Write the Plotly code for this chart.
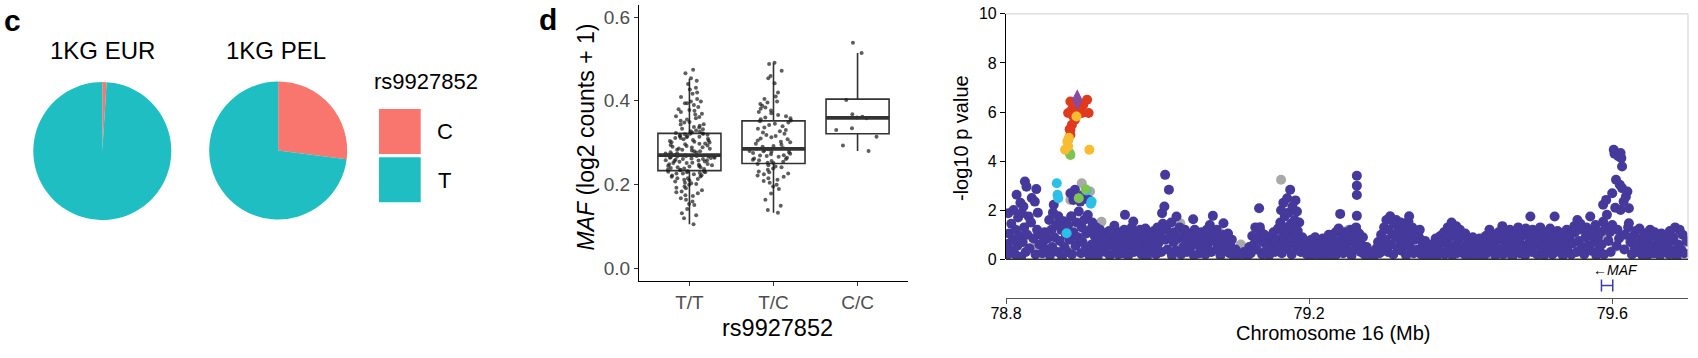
import plotly.graph_objects as go

# ---------------- data ----------------
# panel c: allele frequencies of rs9927852
pie_groups = ["1KG EUR", "1KG PEL"]
alleles = ["C", "T"]
freq_eur = [0.01, 0.99]
freq_pel = [0.27, 0.73]
allele_colors = ["#F8766D", "#1FBEC3"]

# panel d: MAF expression by genotype
genotypes = ["T/T", "T/C", "C/C"]
box_q1 = [0.233, 0.250, 0.321]
box_median = [0.270, 0.285, 0.359]
box_q3 = [0.322, 0.352, 0.404]
box_low = [0.105, 0.132, 0.280]
box_high = [0.452, 0.490, 0.514]

expr_tt = [0.105, 0.119, 0.126, 0.131, 0.141, 0.151, 0.153, 0.159, 0.163, 0.167, 0.172, 0.174, 0.179,
           0.181, 0.183, 0.186, 0.191, 0.192, 0.195, 0.199, 0.201, 0.203, 0.204, 0.207, 0.21, 0.211,
           0.213, 0.215, 0.215, 0.218, 0.219, 0.221, 0.222, 0.224, 0.226, 0.226, 0.227, 0.229, 0.229,
           0.23, 0.231, 0.232, 0.234, 0.235, 0.235, 0.237, 0.238, 0.239, 0.241, 0.241, 0.243, 0.244,
           0.244, 0.246, 0.247, 0.248, 0.249, 0.251, 0.251, 0.252, 0.254, 0.255, 0.256, 0.257, 0.258,
           0.258, 0.259, 0.261, 0.261, 0.262, 0.263, 0.264, 0.264, 0.265, 0.266, 0.267, 0.267, 0.268,
           0.268, 0.269, 0.27, 0.27, 0.271, 0.272, 0.274, 0.274, 0.276, 0.277, 0.279, 0.279, 0.281,
           0.283, 0.283, 0.285, 0.286, 0.288, 0.289, 0.29, 0.292, 0.293, 0.294, 0.296, 0.297, 0.298,
           0.3, 0.301, 0.302, 0.304, 0.305, 0.306, 0.308, 0.309, 0.311, 0.311, 0.313, 0.314, 0.316,
           0.316, 0.317, 0.319, 0.32, 0.321, 0.321, 0.322, 0.323, 0.324, 0.326, 0.327, 0.329, 0.332,
           0.333, 0.336, 0.337, 0.34, 0.343, 0.344, 0.348, 0.349, 0.352, 0.355, 0.358, 0.361, 0.363,
           0.367, 0.369, 0.373, 0.376, 0.378, 0.38, 0.385, 0.39, 0.394, 0.394, 0.398, 0.398, 0.404,
           0.409, 0.417, 0.42, 0.427, 0.431, 0.44, 0.448, 0.454, 0.466, 0.474]
expr_tc = [0.132, 0.139, 0.149, 0.163, 0.178, 0.189, 0.195, 0.199, 0.204, 0.208, 0.211, 0.215, 0.218,
           0.221, 0.224, 0.226, 0.229, 0.231, 0.235, 0.238, 0.241, 0.243, 0.246, 0.249, 0.251, 0.252,
           0.254, 0.256, 0.258, 0.259, 0.261, 0.262, 0.264, 0.266, 0.268, 0.269, 0.27, 0.272, 0.273,
           0.275, 0.277, 0.278, 0.279, 0.28, 0.282, 0.283, 0.284, 0.285, 0.287, 0.29, 0.292, 0.295,
           0.297, 0.301, 0.302, 0.305, 0.308, 0.31, 0.313, 0.316, 0.318, 0.321, 0.324, 0.327, 0.33,
           0.333, 0.336, 0.339, 0.342, 0.345, 0.348, 0.351, 0.353, 0.356, 0.358, 0.36, 0.363, 0.366,
           0.37, 0.373, 0.377, 0.381, 0.384, 0.388, 0.392, 0.396, 0.398, 0.404, 0.41, 0.42, 0.442,
           0.454, 0.459, 0.472, 0.488, 0.491]
expr_cc = [0.28, 0.293, 0.314, 0.33, 0.334, 0.358, 0.36, 0.362, 0.368, 0.402, 0.514, 0.539]

# panel e: regional association plot (position Mb, -log10 p)
lead_snp = [(78.894, 6.5)]
red_points = [(78.907, 6.5), (78.889, 6.37), (78.909, 5.96), (78.889, 5.82), (78.887, 5.48),
              (78.885, 5.07), (78.900, 5.96), (78.902, 6.3), (78.887, 6.1), (78.884, 5.3),
              (78.896, 6.2), (78.885, 6.43), (78.882, 5.96), (78.891, 5.69), (78.885, 5.28)]
yellow_points = [(78.893, 5.82), (78.878, 4.46), (78.881, 4.8), (78.910, 4.46), (78.882, 4.6),
                 (78.883, 4.95)]
green_points = [(78.884, 4.33), (78.885, 4.25), (78.896, 2.49), (78.905, 2.85)]
cyan_points = [(78.867, 3.1), (78.868, 2.63), (78.869, 2.49), (78.880, 1.06), (78.906, 2.8),
               (78.913, 2.35), (78.912, 2.26)]
grey_points = [(78.900, 3.1), (78.911, 2.76), (78.885, 2.42), (78.882, 4.85), (78.926, 1.53),
               (78.832, 1.53), (78.841, 0.58), (78.869, 1.6), (78.962, 0.18), (78.986, 0.92),
               (78.805, 0.5), (78.815, 0.9), (78.86, 0.3), (78.885, 0.35), (78.95, 0.3),
               (78.964, 0.6), (79.03, 1.47), (79.03, 0.55), (79.06, 0.35), (79.081, 1.13),
               (79.09, 0.9), (79.12, 0.2), (79.15, 0.4), (79.163, 3.24), (79.19, 0.75),
               (79.212, 0.45), (79.215, 0.18), (79.252, 1.2), (79.29, 0.35), (79.345, 0.86),
               (79.349, 0.4), (79.364, 0.3), (79.367, 0.65), (79.436, 0.15), (79.481, 0.58),
               (79.539, 0.5), (79.591, 0.92), (79.604, 0.5), (79.628, 0.45), (79.648, 1.13),
               (79.672, 0.45), (79.699, 0.7), (78.94, 0.7), (79.11, 0.6), (79.41, 0.5)]
navy_points = [
    (78.801, 0.15), (78.802, 0.62), (78.804, 1.05), (78.806, 0.35), (78.807, 1.45), (78.803, 1.88),
    (78.809, 0.8), (78.810, 2.01), (78.812, 0.2), (78.813, 1.2), (78.814, 2.63), (78.815, 0.55),
    (78.816, 1.7), (78.818, 0.95), (78.819, 2.3), (78.82, 0.1), (78.821, 1.88), (78.822, 0.7),
    (78.823, 2.15), (78.824, 1.3), (78.825, 3.17), (78.826, 0.3), (78.827, 2.96), (78.828, 1.0),
    (78.83, 1.74), (78.831, 0.45), (78.833, 1.5), (78.834, 2.5), (78.836, 0.85), (78.838, 2.35),
    (78.839, 0.2), (78.840, 2.86), (78.841, 1.2), (78.842, 1.9), (78.844, 0.6), (78.846, 1.0),
    (78.848, 0.25), (78.849, 0.7), (78.851, 1.1), (78.853, 0.4), (78.855, 0.85), (78.857, 1.6),
    (78.858, 0.15), (78.86, 1.2), (78.861, 0.5), (78.862, 1.9), (78.863, 2.22), (78.864, 0.9),
    (78.866, 1.4), (78.868, 0.3), (78.869, 1.75), (78.871, 0.75), (78.873, 1.2), (78.874, 0.1),
    (78.876, 1.55), (78.877, 0.5), (78.879, 1.0), (78.881, 0.3), (78.882, 1.4), (78.884, 0.8),
    (78.885, 2.69), (78.886, 1.75), (78.887, 0.2), (78.889, 2.42), (78.889, 1.1), (78.891, 2.83),
    (78.892, 0.55), (78.893, 1.5), (78.895, 0.9), (78.896, 1.95), (78.898, 2.35), (78.899, 0.25),
    (78.90, 1.3), (78.901, 0.7), (78.902, 2.63), (78.903, 1.6), (78.905, 0.4), (78.906, 1.05),
    (78.908, 1.8), (78.909, 2.42), (78.91, 0.15), (78.911, 1.2), (78.913, 0.6), (78.914, 1.5),
    (78.916, 0.3), (78.917, 0.95), (78.919, 1.3), (78.92, 0.5), (78.921, 0.1), (78.922, 0.85),
    (78.924, 1.2), (78.926, 0.4), (78.927, 0.75), (78.929, 1.05), (78.931, 0.3), (78.933, 0.9),
    (78.934, 0.55), (78.936, 1.15), (78.937, 0.15), (78.939, 0.7), (78.941, 1.0), (78.943, 1.37),
    (78.944, 0.4), (78.946, 0.8), (78.948, 0.2), (78.949, 1.1), (78.951, 0.6), (78.952, 0.9),
    (78.954, 0.25), (78.956, 1.2), (78.957, 1.81), (78.958, 0.5), (78.96, 0.85), (78.961, 0.15),
    (78.963, 1.0), (78.965, 0.55), (78.966, 1.3), (78.968, 1.54), (78.969, 0.3), (78.971, 0.8),
    (78.972, 1.1), (78.974, 0.35), (78.976, 0.65), (78.977, 1.2), (78.979, 0.2), (78.981, 0.9),
    (78.983, 0.45), (78.984, 1.25), (78.986, 0.1), (78.987, 0.7), (78.989, 1.05), (78.991, 0.35),
    (78.993, 0.8), (78.995, 1.15), (78.996, 0.5), (78.998, 0.2), (79.0, 1.3), (79.001, 0.65),
    (79.003, 1.0), (79.005, 0.3), (79.006, 1.88), (79.007, 1.45), (79.009, 2.15), (79.01, 3.44),
    (79.01, 0.8), (79.012, 1.2), (79.013, 0.4), (79.015, 2.83), (79.016, 0.9), (79.018, 1.5),
    (79.019, 0.15), (79.021, 0.7), (79.022, 1.1), (79.024, 0.35), (79.025, 1.74), (79.027, 0.85),
    (79.029, 1.3), (79.031, 0.2), (79.033, 0.95), (79.034, 0.5), (79.036, 1.2), (79.038, 0.75),
    (79.039, 0.3), (79.041, 1.05), (79.043, 0.45), (79.045, 0.8), (79.047, 1.63), (79.048, 0.15),
    (79.049, 1.2), (79.051, 0.6), (79.053, 1.0), (79.055, 0.25), (79.056, 0.7), (79.058, 1.1),
    (79.06, 0.4), (79.061, 0.85), (79.063, 0.2), (79.065, 1.2), (79.066, 0.55), (79.068, 0.9),
    (79.069, 1.4), (79.071, 0.3), (79.073, 1.77), (79.074, 0.75), (79.076, 1.1), (79.078, 1.2),
    (79.079, 0.45), (79.081, 0.9), (79.083, 0.15), (79.085, 0.65), (79.087, 1.47), (79.088, 1.0),
    (79.09, 0.35), (79.091, 0.7), (79.093, 1.05), (79.095, 0.25), (79.096, 0.55), (79.098, 0.8),
    (79.1, 0.15), (79.103, 0.4), (79.108, 0.2), (79.114, 0.3), (79.118, 0.1), (79.121, 0.5),
    (79.123, 0.25), (79.125, 0.95), (79.127, 0.6), (79.129, 1.3), (79.131, 0.4), (79.133, 0.85),
    (79.134, 2.08), (79.135, 1.31), (79.136, 1.13), (79.138, 0.2), (79.139, 0.7), (79.141, 1.0),
    (79.143, 0.35), (79.145, 0.75), (79.147, 0.15), (79.149, 0.9), (79.151, 0.5), (79.153, 1.1),
    (79.155, 0.3), (79.157, 0.8), (79.159, 1.25), (79.161, 0.6), (79.162, 1.5), (79.163, 2.0),
    (79.164, 0.25), (79.165, 1.1), (79.166, 2.3), (79.167, 0.8), (79.168, 1.75), (79.169, 1.3),
    (79.17, 0.45), (79.171, 2.49), (79.172, 1.0), (79.173, 1.9), (79.174, 0.6), (79.175, 2.83),
    (79.176, 1.45), (79.177, 0.2), (79.178, 2.15), (79.179, 1.2), (79.18, 0.85), (79.181, 1.6),
    (79.182, 2.4), (79.183, 0.4), (79.184, 1.95), (79.185, 1.15), (79.186, 0.7), (79.187, 1.5),
    (79.189, 0.3), (79.191, 0.9), (79.193, 0.5), (79.195, 0.75), (79.197, 0.2), (79.199, 0.6),
    (79.201, 0.35), (79.203, 0.8), (79.205, 0.15), (79.206, 0.55), (79.208, 0.9), (79.21, 0.3),
    (79.212, 0.65), (79.214, 0.2), (79.216, 0.5), (79.218, 0.85), (79.22, 0.1), (79.221, 0.45),
    (79.223, 0.75), (79.225, 0.25), (79.226, 1.0), (79.228, 0.55), (79.229, 0.15), (79.231, 0.8),
    (79.233, 0.4), (79.235, 1.1), (79.236, 0.2), (79.238, 0.7), (79.239, 1.25), (79.241, 1.85),
    (79.242, 0.5), (79.244, 0.9), (79.245, 0.25), (79.247, 1.1), (79.249, 0.6), (79.251, 0.35),
    (79.253, 0.85), (79.255, 1.2), (79.256, 0.15), (79.258, 0.7), (79.26, 1.0), (79.261, 0.4),
    (79.262, 1.3), (79.263, 1.77), (79.263, 2.62), (79.263, 3.0), (79.263, 3.4), (79.265, 0.8),
    (79.266, 1.05), (79.268, 0.3), (79.269, 0.6), (79.271, 0.9), (79.273, 0.2), (79.276, 0.5),
    (79.279, 0.1), (79.283, 0.3), (79.286, 0.15), (79.289, 0.45), (79.291, 0.7), (79.293, 0.25),
    (79.295, 1.0), (79.297, 0.5), (79.299, 1.3), (79.301, 0.8), (79.302, 1.6), (79.304, 0.3),
    (79.305, 1.2), (79.307, 1.75), (79.308, 0.6), (79.31, 1.0), (79.311, 0.2), (79.312, 1.45),
    (79.314, 0.9), (79.315, 1.6), (79.317, 0.45), (79.318, 1.2), (79.32, 0.75), (79.321, 1.5),
    (79.322, 0.35), (79.324, 1.1), (79.325, 0.6), (79.327, 1.3), (79.328, 0.15), (79.33, 0.85),
    (79.331, 1.55), (79.332, 1.75), (79.333, 0.5), (79.335, 1.0), (79.336, 1.3), (79.338, 0.25),
    (79.339, 0.8), (79.341, 1.15), (79.343, 0.4), (79.345, 0.9), (79.346, 1.2), (79.348, 0.2),
    (79.35, 0.65), (79.351, 0.35), (79.353, 0.75), (79.355, 0.1), (79.357, 0.5), (79.359, 0.3),
    (79.361, 0.6), (79.363, 0.2), (79.365, 0.45), (79.367, 0.85), (79.369, 0.15), (79.371, 0.5),
    (79.373, 0.95), (79.374, 0.3), (79.376, 0.75), (79.378, 1.1), (79.379, 0.2), (79.381, 0.65),
    (79.383, 1.3), (79.384, 0.4), (79.386, 0.9), (79.388, 1.5), (79.389, 0.15), (79.391, 1.1),
    (79.392, 0.55), (79.394, 1.35), (79.395, 0.25), (79.397, 0.8), (79.399, 1.2), (79.401, 0.45),
    (79.403, 0.95), (79.405, 0.2), (79.406, 1.05), (79.408, 0.6), (79.41, 0.3), (79.411, 0.8),
    (79.413, 0.15), (79.414, 0.55), (79.416, 0.9), (79.418, 0.35), (79.42, 0.7), (79.421, 0.2),
    (79.423, 0.6), (79.425, 0.85), (79.426, 0.3), (79.428, 0.5), (79.43, 0.1), (79.431, 0.65),
    (79.433, 0.95), (79.434, 0.25), (79.436, 0.5), (79.438, 1.2), (79.439, 0.8), (79.441, 0.35),
    (79.443, 1.0), (79.445, 0.55), (79.446, 0.15), (79.448, 0.8), (79.45, 1.1), (79.451, 0.4),
    (79.453, 0.9), (79.455, 1.35), (79.456, 0.2), (79.458, 0.65), (79.46, 1.05), (79.461, 0.3),
    (79.463, 0.75), (79.465, 1.2), (79.466, 0.5), (79.468, 0.1), (79.47, 0.85), (79.471, 1.1),
    (79.473, 0.4), (79.474, 0.7), (79.476, 1.3), (79.478, 0.25), (79.479, 0.9), (79.481, 0.55),
    (79.483, 1.0), (79.485, 0.15), (79.486, 1.25), (79.488, 0.6), (79.49, 0.35), (79.491, 0.9),
    (79.492, 1.74), (79.494, 0.3), (79.495, 1.2), (79.497, 0.6), (79.499, 1.0), (79.501, 0.2),
    (79.503, 0.75), (79.505, 1.3), (79.506, 0.45), (79.508, 0.95), (79.51, 0.15), (79.511, 0.6),
    (79.513, 1.1), (79.515, 0.35), (79.516, 0.8), (79.518, 1.25), (79.52, 0.5), (79.521, 0.2),
    (79.523, 0.9), (79.524, 1.74), (79.526, 0.55), (79.528, 1.15), (79.53, 0.3), (79.531, 0.75),
    (79.533, 1.05), (79.535, 0.15), (79.536, 0.5), (79.538, 0.9), (79.54, 1.2), (79.541, 0.4),
    (79.543, 0.8), (79.545, 1.0), (79.546, 0.2), (79.548, 0.65), (79.55, 1.35), (79.551, 1.1),
    (79.553, 0.3), (79.554, 1.6), (79.556, 0.75), (79.558, 1.45), (79.56, 0.5), (79.561, 1.2),
    (79.563, 0.2), (79.565, 0.9), (79.566, 1.3), (79.568, 0.55), (79.57, 1.0), (79.571, 1.74),
    (79.572, 0.35), (79.574, 1.2), (79.576, 0.7), (79.578, 1.4), (79.579, 0.15), (79.581, 0.9),
    (79.583, 0.4), (79.585, 1.1), (79.586, 0.6), (79.588, 1.53), (79.588, 2.22), (79.589, 0.2),
    (79.591, 1.3), (79.592, 2.42), (79.593, 1.81), (79.595, 0.75), (79.597, 1.1), (79.598, 0.3),
    (79.6, 2.69), (79.6, 1.4), (79.602, 4.46), (79.603, 4.3), (79.605, 3.24), (79.604, 2.1),
    (79.606, 0.55), (79.607, 1.2), (79.608, 4.2), (79.609, 0.85), (79.61, 3.04), (79.611, 4.33),
    (79.611, 2.01), (79.612, 4.12), (79.613, 3.78), (79.613, 2.9), (79.615, 2.35), (79.616, 0.4),
    (79.617, 1.0), (79.618, 2.55), (79.62, 2.76), (79.621, 1.3), (79.622, 2.08), (79.622, 1.47),
    (79.624, 0.7), (79.626, 0.2), (79.628, 0.95), (79.63, 0.45), (79.631, 1.15), (79.633, 0.3),
    (79.635, 0.8), (79.636, 1.25), (79.638, 0.5), (79.64, 0.15), (79.641, 0.9), (79.643, 1.05),
    (79.645, 0.35), (79.646, 0.7), (79.648, 0.2), (79.65, 1.2), (79.651, 0.55), (79.653, 0.95),
    (79.655, 0.25), (79.656, 1.1), (79.658, 0.6), (79.66, 0.4), (79.661, 0.8), (79.663, 0.15),
    (79.665, 1.05), (79.666, 0.45), (79.668, 0.7), (79.67, 0.3), (79.671, 1.0), (79.673, 0.55),
    (79.675, 0.2), (79.676, 1.15), (79.678, 0.75), (79.68, 0.35), (79.681, 0.9), (79.683, 1.3),
    (79.685, 0.1), (79.687, 0.6), (79.689, 1.2), (79.691, 0.4), (79.693, 1.0), (79.695, 0.25),
    (79.698, 0.75)]

gene_name = "MAF"
gene_start = 79.5858
gene_end = 79.6007
chrom_ticks = [78.8, 79.2, 79.6]

# ---------------- layout helpers ----------------
W, H = 1698, 358
FONT = "Liberation Sans, Arial, Helvetica, sans-serif"


def px(x):
    return x / W


def py(y):
    return 1 - y / H


fig = go.Figure()

# ---------------- panel c: pies ----------------
pie_domains = [
    dict(x=[px(33.3), px(171.3)], y=[py(220), py(82)]),
    dict(x=[px(209.2), px(347.2)], y=[py(219.5), py(81.5)]),
]
for vals, dom in zip([freq_eur, freq_pel], pie_domains):
    fig.add_trace(go.Pie(labels=alleles, values=vals, domain=dom, sort=False,
                         direction="counterclockwise", rotation=0, textinfo="none",
                         marker=dict(colors=allele_colors, line=dict(width=0)),
                         showlegend=False, hoverinfo="label+percent", automargin=False))

# ---------------- panel d: boxplot ----------------
half_w = 0.375
box_line = "#333333"
for i, g in enumerate(genotypes):
    fig.add_trace(go.Box(x=[i], q1=[box_q1[i]], median=[box_median[i]], q3=[box_q3[i]],
                         lowerfence=[box_low[i]], upperfence=[box_high[i]],
                         width=2 * half_w, whiskerwidth=0, boxpoints=False,
                         fillcolor="white", line=dict(color=box_line, width=1.6),
                         xaxis="x", yaxis="y", showlegend=False, name=g))
med_x, med_y = [], []
for i in range(len(genotypes)):
    med_x += [i - half_w, i + half_w, None]
    med_y += [box_median[i], box_median[i], None]
fig.add_trace(go.Scatter(x=med_x, y=med_y, mode="lines", line=dict(color=box_line, width=3.6),
                         xaxis="x", yaxis="y", showlegend=False, hoverinfo="skip"))
for i, vals in enumerate([expr_tt, expr_tc, expr_cc]):
    fig.add_trace(go.Box(x=[i] * len(vals), y=vals, boxpoints="all", jitter=0.8, pointpos=0,
                         width=2 * half_w, fillcolor="rgba(0,0,0,0)",
                         line=dict(width=0, color="rgba(0,0,0,0)"),
                         marker=dict(size=4, color="rgba(25,25,25,0.7)"),
                         xaxis="x", yaxis="y", showlegend=False, name=genotypes[i]))

# ---------------- panel e: locus plot ----------------
def add_pts(points, color, size=10, symbol="circle"):
    xs = [p[0] for p in points]
    ys = [p[1] for p in points]
    fig.add_trace(go.Scatter(x=xs, y=ys, mode="markers", xaxis="x2", yaxis="y2",
                             marker=dict(color=color, size=size, symbol=symbol, line=dict(width=0)),
                             showlegend=False))


add_pts(grey_points, "#A9A9A9")
add_pts(navy_points, "#45399B")
add_pts(cyan_points, "#2CBFE8")
add_pts(green_points, "#7DC452")
add_pts(red_points, "#E03A1E")
add_pts(yellow_points, "#F7BC2F")
add_pts(lead_snp, "#8A4A9E", size=15, symbol="diamond-tall")

fig.update_layout(
    width=W, height=H, autosize=False,
    margin=dict(l=0, r=0, t=0, b=0, pad=0, autoexpand=False),
    paper_bgcolor="white", plot_bgcolor="rgba(0,0,0,0)",
    font=dict(family=FONT, color="black"),
    boxmode="overlay",
    xaxis=dict(domain=[px(639), px(908)], range=[-0.6, 2.6], anchor="y",
               tickvals=[0, 1, 2], ticktext=genotypes, showline=True, linecolor="black",
               linewidth=1.2, ticks="outside", ticklen=4, tickcolor="#333333",
               tickfont=dict(size=19, color="#4D4D4D"), showgrid=False, zeroline=False,
               automargin=False),
    yaxis=dict(domain=[py(281), py(5)], range=[-0.031, 0.629], anchor="x",
               tickvals=[0, 0.2, 0.4, 0.6], ticktext=["0.0", "0.2", "0.4", "0.6"],
               showline=True, linecolor="black", linewidth=1.2, ticks="outside", ticklen=4,
               tickcolor="#333333", tickfont=dict(size=19, color="#4D4D4D"),
               showgrid=False, zeroline=False, automargin=False),
    xaxis2=dict(domain=[px(1006), px(1688)], range=[78.8, 79.7], anchor="free",
                position=py(298.3), tickvals=chrom_ticks, ticktext=[f"{t:.1f}" for t in chrom_ticks],
                showline=True, linecolor="#555555", linewidth=1, ticks="outside", ticklen=5,
                tickcolor="#555555", tickfont=dict(size=16), showgrid=False, zeroline=False,
                ticklabelstandoff=-5, automargin=False),
    yaxis2=dict(domain=[py(259.3), py(13.8)], range=[0, 10], anchor="x2",
                tickvals=[0, 2, 4, 6, 8, 10], showline=True, linecolor="black", linewidth=1.2,
                ticks="outside", ticklen=5, tickcolor="black", tickfont=dict(size=16),
                showgrid=False, zeroline=False, automargin=False),
)

shapes = [
    # legend swatches for the pies
    dict(type="rect", xref="paper", yref="paper", x0=px(379), x1=px(420.7), y0=py(154), y1=py(109),
         fillcolor=allele_colors[0], line=dict(width=0)),
    dict(type="rect", xref="paper", yref="paper", x0=px(379), x1=px(420.7), y0=py(202.3), y1=py(157.3),
         fillcolor=allele_colors[1], line=dict(width=0)),
    # locus plot frame
    dict(type="line", xref="x2 domain", yref="y2 domain", x0=0, x1=1, y0=1, y1=1,
         line=dict(color="#D9D9D9", width=1.2)),
    dict(type="line", xref="x2 domain", yref="y2 domain", x0=1, x1=1, y0=0, y1=1,
         line=dict(color="#D9D9D9", width=1.2)),
    dict(type="line", xref="x2 domain", yref="y2 domain", x0=0, x1=1, y0=0, y1=0,
         line=dict(color="#333333", width=1.6)),
    # gene track
    dict(type="line", xref="x2", yref="paper", x0=gene_start, x1=gene_end, y0=py(285.5), y1=py(285.5),
         line=dict(color="#3A3FA0", width=1.5)),
    dict(type="line", xref="x2", yref="paper", x0=gene_start, x1=gene_start, y0=py(279.5), y1=py(291.5),
         line=dict(color="#3A3FA0", width=1.5)),
    dict(type="line", xref="x2", yref="paper", x0=gene_end, x1=gene_end, y0=py(279.5), y1=py(291.5),
         line=dict(color="#3A3FA0", width=1.5)),
]
fig.update_layout(shapes=shapes)


def ann(x, y, text, size, angle=0, bold=False, xref="paper", color="black"):
    return dict(x=x, y=y, xref=xref, yref="paper", text=f"<b>{text}</b>" if bold else text,
                showarrow=False, textangle=angle, xanchor="center", yanchor="middle",
                font=dict(size=size, family=FONT, color=color))


annotations = [
    ann(px(12.5), py(20), "c", 30, bold=True),
    ann(px(548), py(19), "d", 30, bold=True),
    ann(px(102.7), py(50), pie_groups[0], 24),
    ann(px(276), py(50), pie_groups[1], 24),
    ann(px(425.5), py(81), "rs9927852", 22),
    ann(px(445), py(131.7), alleles[0], 22),
    ann(px(445), py(180), alleles[1], 22),
    ann(px(585), py(137.5), "<i>MAF</i> (log2 counts + 1)", 23, angle=-90),
    ann(px(777.3), py(328.3), "rs9927852", 23.5),
    ann(px(961), py(138), "-log10 p value", 20, angle=-90),
    ann(px(1333), py(333), "Chromosome 16 (Mb)", 20),
    ann((gene_start + gene_end) / 2 + 0.011, py(270), "\u2190<i>" + gene_name + "</i>", 14, xref="x2"),
]
fig.update_layout(annotations=annotations)

fig.write_html(
    "out.html",
    config={"responsive": False, "displayModeBar": False},
    post_script="document.body.style.margin='0';document.body.style.overflow='hidden';",
)
